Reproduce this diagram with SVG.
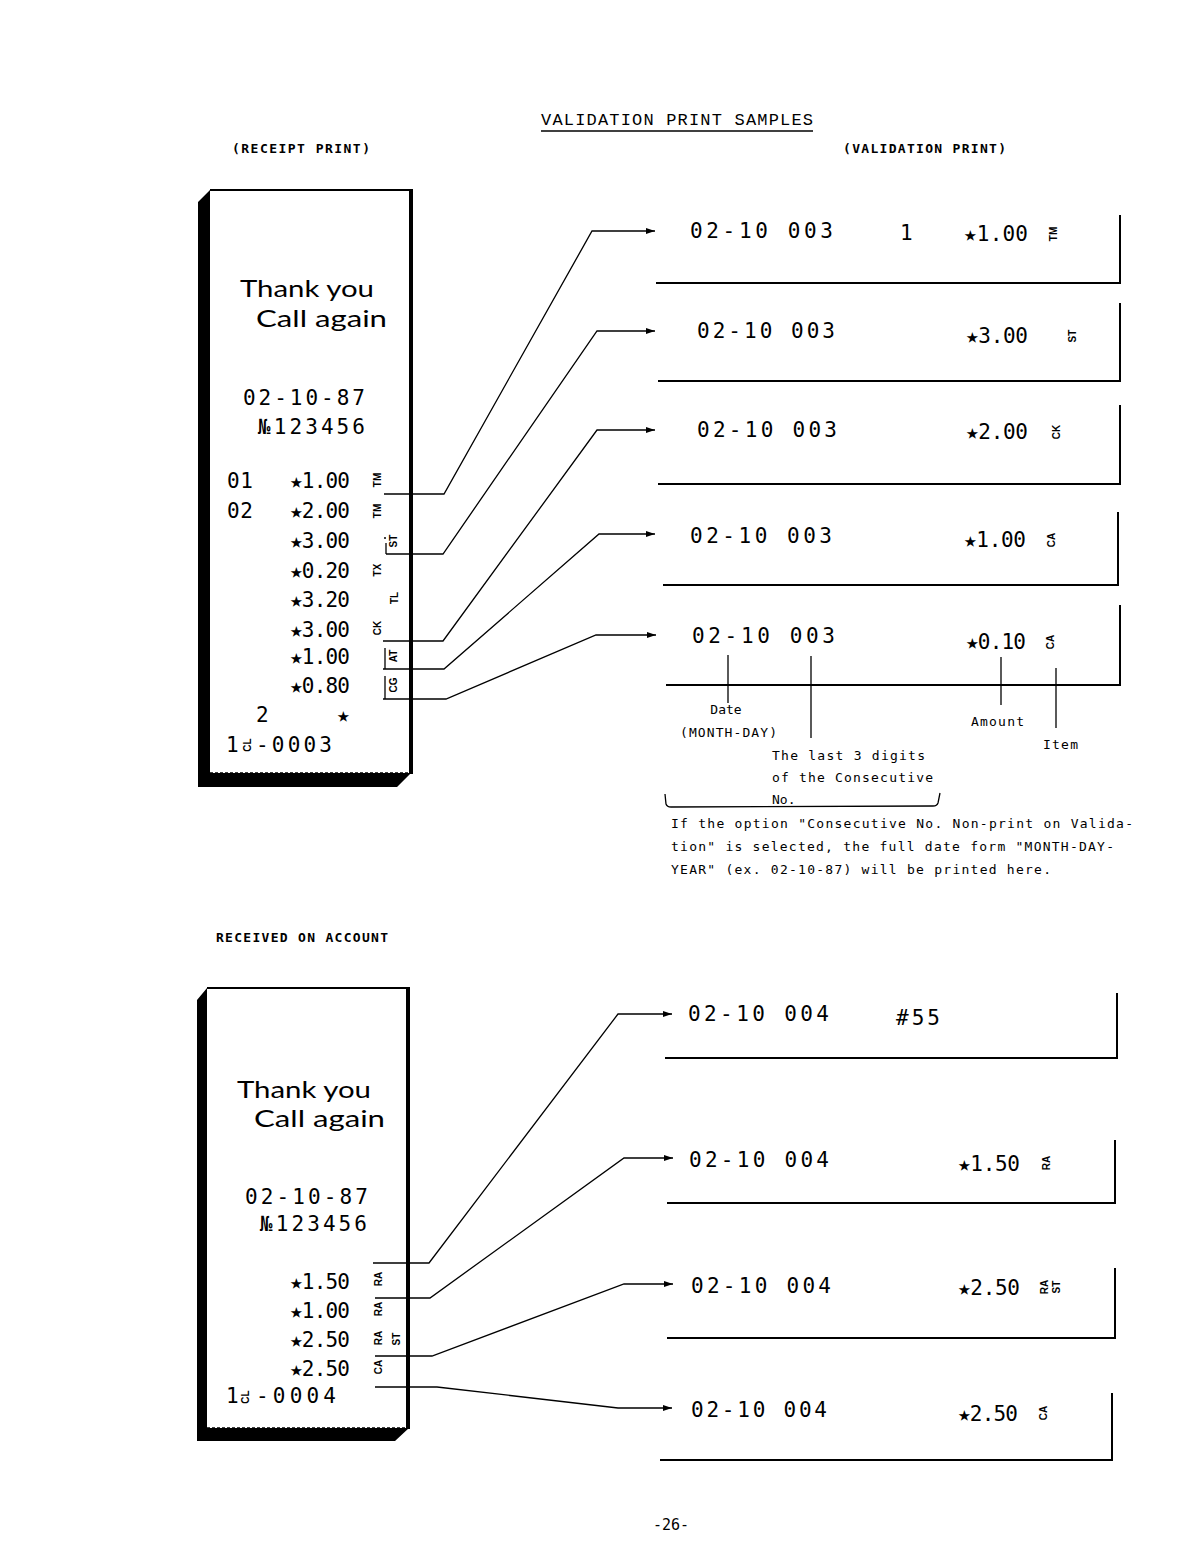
<svg xmlns="http://www.w3.org/2000/svg" width="1202" height="1560" viewBox="0 0 1202 1560">
<defs>
<marker id="arr" markerWidth="9" markerHeight="6" refX="9" refY="3" orient="auto" markerUnits="userSpaceOnUse"><path d="M0,0 L9,3 L0,6 z" fill="#000"/></marker>
<style>
.mono{font-family:"DejaVu Sans Mono","Liberation Mono",monospace;fill:#000}
.dig{font-size:21px}
.sm{font-size:13px}
.pg{font-size:15px}
.hd{font-family:"DejaVu Sans Mono","Liberation Mono",monospace;font-size:13px;font-weight:bold}
.ttl{font-family:"Liberation Mono","DejaVu Sans Mono",monospace;font-size:17px}
.lbl{font-family:"Liberation Sans",Arial,sans-serif;font-size:10px;font-weight:bold}
.vl{font-family:"Liberation Sans",Arial,sans-serif;font-size:10px;font-weight:bold}
.thank{font-family:"Lato","Liberation Sans",sans-serif;font-size:24px}
.ln{stroke:#000;fill:none;stroke-width:1.3}
.bx{stroke:#000;fill:none;stroke-width:2}
.face{fill:#fff;stroke:none}
.shadow{fill:#000}
</style>
</defs>
<rect width="1202" height="1560" fill="#fff"/>

<!-- headings -->
<g id="headings">
<text class="ttl" x="541" y="125" textLength="272" lengthAdjust="spacing">VALIDATION PRINT SAMPLES</text>
<line x1="541" y1="131" x2="813" y2="131" stroke="#000" stroke-width="1.5"/>
<text class="hd" x="232" y="153" textLength="138" lengthAdjust="spacing">(RECEIPT PRINT)</text>
<text class="hd" x="843" y="153" textLength="163" lengthAdjust="spacing">(VALIDATION PRINT)</text>
<text class="hd" x="216" y="942" textLength="172" lengthAdjust="spacing">RECEIVED ON ACCOUNT</text>
<text class="mono pg" x="671" y="1530" text-anchor="middle">-26-</text>
</g>

<!-- top receipt -->
<g id="receipt1">
<path class="shadow" d="M210,190 L198,202 L198,787 L397,787 L411,773 L210,773 Z"/>
<rect class="face" x="210" y="190" width="201" height="583"/>
<line x1="210" y1="190" x2="413" y2="190" stroke="#000" stroke-width="2"/>
<line x1="411" y1="189" x2="411" y2="774" stroke="#000" stroke-width="4"/>
<line x1="210" y1="773" x2="411" y2="773" stroke="#000" stroke-width="1.5" stroke-dasharray="3,2"/>
<text class="thank" x="240" y="297" textLength="134" lengthAdjust="spacingAndGlyphs">Thank you</text>
<text class="thank" x="256" y="327" textLength="131" lengthAdjust="spacingAndGlyphs">Call again</text>
<text class="mono dig" x="243" y="405" textLength="122" lengthAdjust="spacing">02-10-87</text>
<text class="mono dig" x="258" y="434" textLength="107" lengthAdjust="spacing">№123456</text>
<text class="mono dig" x="227" y="488" textLength="26" lengthAdjust="spacing">01</text>
<text class="mono dig" x="227" y="518" textLength="26" lengthAdjust="spacing">02</text>
<text class="mono dig" x="290" y="488" textLength="60" lengthAdjust="spacing">★1.00</text>
<text class="mono dig" x="290" y="518" textLength="60" lengthAdjust="spacing">★2.00</text>
<text class="mono dig" x="290" y="548" textLength="60" lengthAdjust="spacing">★3.00</text>
<text class="mono dig" x="290" y="578" textLength="60" lengthAdjust="spacing">★0.20</text>
<text class="mono dig" x="290" y="607" textLength="60" lengthAdjust="spacing">★3.20</text>
<text class="mono dig" x="290" y="637" textLength="60" lengthAdjust="spacing">★3.00</text>
<text class="mono dig" x="290" y="664" textLength="60" lengthAdjust="spacing">★1.00</text>
<text class="mono dig" x="290" y="693" textLength="60" lengthAdjust="spacing">★0.80</text>
<text class="mono dig" x="256" y="722">2</text>
<text class="mono dig" x="337" y="722">★</text>
<text class="mono dig" x="226" y="752">1</text>
<text class="vl" transform="translate(247,745) rotate(-90)" text-anchor="middle" dy="0.35em">CL</text>
<text class="mono dig" x="256" y="752" textLength="76" lengthAdjust="spacing">-0003</text>
<text class="lbl" transform="translate(377,480) rotate(-90)" text-anchor="middle" dy="0.35em">TM</text>
<text class="lbl" transform="translate(377,511) rotate(-90)" text-anchor="middle" dy="0.35em">TM</text>
<text class="lbl" transform="translate(393,541) rotate(-90)" text-anchor="middle" dy="0.35em">ST</text>
<text class="lbl" transform="translate(377,570) rotate(-90)" text-anchor="middle" dy="0.35em">TX</text>
<text class="lbl" transform="translate(394,598) rotate(-90)" text-anchor="middle" dy="0.35em">TL</text>
<text class="lbl" transform="translate(377,628) rotate(-90)" text-anchor="middle" dy="0.35em">CK</text>
<text class="lbl" transform="translate(393,656) rotate(-90)" text-anchor="middle" dy="0.35em">AT</text>
<text class="lbl" transform="translate(393,685) rotate(-90)" text-anchor="middle" dy="0.35em">CG</text>
<circle cx="385" cy="538" r="1" fill="#000"/>
<line x1="386" y1="543" x2="386" y2="554" class="ln"/>
<line x1="385" y1="648" x2="385" y2="669" class="ln"/>
<line x1="385" y1="676" x2="385" y2="699" class="ln"/>
</g>

<!-- bottom receipt -->
<g id="receipt2">
<path class="shadow" d="M207,988 L197,1000 L197,1441 L395,1441 L409,1428 L207,1428 Z"/>
<rect class="face" x="207" y="988" width="201" height="440"/>
<line x1="207" y1="988" x2="410" y2="988" stroke="#000" stroke-width="2"/>
<line x1="408" y1="987" x2="408" y2="1429" stroke="#000" stroke-width="4"/>
<line x1="207" y1="1428" x2="408" y2="1428" stroke="#000" stroke-width="1.5" stroke-dasharray="3,2"/>
<text class="thank" x="237" y="1098" textLength="134" lengthAdjust="spacingAndGlyphs">Thank you</text>
<text class="thank" x="254" y="1127" textLength="131" lengthAdjust="spacingAndGlyphs">Call again</text>
<text class="mono dig" x="245" y="1204" textLength="123" lengthAdjust="spacing">02-10-87</text>
<text class="mono dig" x="260" y="1231" textLength="107" lengthAdjust="spacing">№123456</text>
<text class="mono dig" x="290" y="1289" textLength="60" lengthAdjust="spacing">★1.50</text>
<text class="mono dig" x="290" y="1318" textLength="60" lengthAdjust="spacing">★1.00</text>
<text class="mono dig" x="290" y="1347" textLength="60" lengthAdjust="spacing">★2.50</text>
<text class="mono dig" x="290" y="1376" textLength="60" lengthAdjust="spacing">★2.50</text>
<text class="mono dig" x="226" y="1403">1</text>
<text class="vl" transform="translate(245,1397) rotate(-90)" text-anchor="middle" dy="0.35em">CL</text>
<text class="mono dig" x="256" y="1403" textLength="80" lengthAdjust="spacing">-0004</text>
<text class="lbl" transform="translate(378,1279) rotate(-90)" text-anchor="middle" dy="0.35em">RA</text>
<text class="lbl" transform="translate(378,1309) rotate(-90)" text-anchor="middle" dy="0.35em">RA</text>
<text class="lbl" transform="translate(378,1338) rotate(-90)" text-anchor="middle" dy="0.35em">RA</text>
<text class="lbl" transform="translate(396,1339) rotate(-90)" text-anchor="middle" dy="0.35em">ST</text>
<text class="lbl" transform="translate(378,1367) rotate(-90)" text-anchor="middle" dy="0.35em">CA</text>
</g>

<!-- validation prints (top) -->
<g id="val1">
<text class="mono dig" x="690" y="238" textLength="143" lengthAdjust="spacing">02-10 003</text>
<text class="mono dig" x="900" y="240">1</text>
<text class="mono dig" x="964" y="241" textLength="64" lengthAdjust="spacing">★1.00</text>
<text class="vl" transform="translate(1053,234) rotate(-90)" text-anchor="middle" dy="0.35em">TM</text>
<path class="bx" d="M656,283 H1120 V215"/>
</g>
<g id="val2">
<text class="mono dig" x="697" y="338" textLength="138" lengthAdjust="spacing">02-10 003</text>
<text class="mono dig" x="966" y="343" textLength="62" lengthAdjust="spacing">★3.00</text>
<text class="vl" transform="translate(1072,336) rotate(-90)" text-anchor="middle" dy="0.35em">ST</text>
<path class="bx" d="M658,381 H1120 V303"/>
</g>
<g id="val3">
<text class="mono dig" x="697" y="437" textLength="140" lengthAdjust="spacing">02-10 003</text>
<text class="mono dig" x="966" y="439" textLength="62" lengthAdjust="spacing">★2.00</text>
<text class="vl" transform="translate(1056,432) rotate(-90)" text-anchor="middle" dy="0.35em">CK</text>
<path class="bx" d="M658,484 H1120 V405"/>
</g>
<g id="val4">
<text class="mono dig" x="690" y="543" textLength="142" lengthAdjust="spacing">02-10 003</text>
<text class="mono dig" x="964" y="547" textLength="62" lengthAdjust="spacing">★1.00</text>
<text class="vl" transform="translate(1051,540) rotate(-90)" text-anchor="middle" dy="0.35em">CA</text>
<path class="bx" d="M663,585 H1118 V512"/>
</g>
<g id="val5">
<text class="mono dig" x="692" y="643" textLength="143" lengthAdjust="spacing">02-10 003</text>
<text class="mono dig" x="966" y="649" textLength="60" lengthAdjust="spacing">★0.10</text>
<text class="vl" transform="translate(1050,642) rotate(-90)" text-anchor="middle" dy="0.35em">CA</text>
<path class="bx" d="M666,685 H1120 V605"/>
</g>

<!-- annotations -->
<g id="annotations">
<line class="ln" x1="728" y1="655" x2="728" y2="703"/>
<line class="ln" x1="811" y1="656" x2="811" y2="738"/>
<line class="ln" x1="1001" y1="657" x2="1001" y2="705"/>
<line class="ln" x1="1056" y1="668" x2="1056" y2="728"/>
<text class="mono sm" x="726" y="714" text-anchor="middle">Date</text>
<text class="mono sm" x="680" y="737" textLength="97" lengthAdjust="spacing">(MONTH-DAY)</text>
<text class="mono sm" x="772" y="760" textLength="153" lengthAdjust="spacing">The last 3 digits</text>
<text class="mono sm" x="772" y="782" textLength="161" lengthAdjust="spacing">of the Consecutive</text>
<text class="mono sm" x="772" y="804">No.</text>
<text class="mono sm" x="971" y="726" textLength="53" lengthAdjust="spacing">Amount</text>
<text class="mono sm" x="1043" y="749" textLength="35" lengthAdjust="spacing">Item</text>
<path class="ln" d="M665,794 L666,804 Q667,807 671,807 L933,806 Q937,806 938,803 L940,793"/>
<text class="mono sm" x="671" y="828" textLength="462" lengthAdjust="spacing">If the option "Consecutive No. Non-print on Valida-</text>
<text class="mono sm" x="671" y="851" textLength="443" lengthAdjust="spacing">tion" is selected, the full date form "MONTH-DAY-</text>
<text class="mono sm" x="671" y="874" textLength="380" lengthAdjust="spacing">YEAR" (ex. 02-10-87) will be printed here.</text>
</g>

<!-- validation prints (bottom) -->
<g id="val6">
<text class="mono dig" x="688" y="1021" textLength="141" lengthAdjust="spacing">02-10 004</text>
<text class="mono dig" x="896" y="1025" textLength="44" lengthAdjust="spacing">#55</text>
<path class="bx" d="M665,1058 H1117 V993"/>
</g>
<g id="val7">
<text class="mono dig" x="689" y="1167" textLength="140" lengthAdjust="spacing">02-10 004</text>
<text class="mono dig" x="958" y="1171" textLength="62" lengthAdjust="spacing">★1.50</text>
<text class="vl" transform="translate(1046,1163) rotate(-90)" text-anchor="middle" dy="0.35em">RA</text>
<path class="bx" d="M667,1203 H1115 V1140"/>
</g>
<g id="val8">
<text class="mono dig" x="691" y="1293" textLength="140" lengthAdjust="spacing">02-10 004</text>
<text class="mono dig" x="958" y="1295" textLength="62" lengthAdjust="spacing">★2.50</text>
<text class="vl" transform="translate(1044,1287) rotate(-90)" text-anchor="middle" dy="0.35em">RA</text>
<text class="vl" transform="translate(1056,1287) rotate(-90)" text-anchor="middle" dy="0.35em">ST</text>
<path class="bx" d="M667,1338 H1115 V1268"/>
</g>
<g id="val9">
<text class="mono dig" x="691" y="1417" textLength="136" lengthAdjust="spacing">02-10 004</text>
<text class="mono dig" x="958" y="1421" textLength="60" lengthAdjust="spacing">★2.50</text>
<text class="vl" transform="translate(1043,1413) rotate(-90)" text-anchor="middle" dy="0.35em">CA</text>
<path class="bx" d="M660,1460 H1112 V1393"/>
</g>

<!-- connectors -->
<g id="connectors" class="ln" marker-end="url(#arr)">
<path d="M384,494 H444 L592,231 H655"/>
<path d="M386,554 H443 L597,331 H655"/>
<path d="M383,641 H443 L597,430 H655"/>
<path d="M383,669 H444 L599,534 H655"/>
<path d="M383,699 H446 L596,635 H656"/>
<path d="M373,1263 H429 L618,1014 H672"/>
<path d="M375,1298 H430 L624,1158 H673"/>
<path d="M375,1356 H432 L624,1284 H673"/>
<path d="M375,1387 H437 L618,1408 H672"/>
</g>
</svg>
